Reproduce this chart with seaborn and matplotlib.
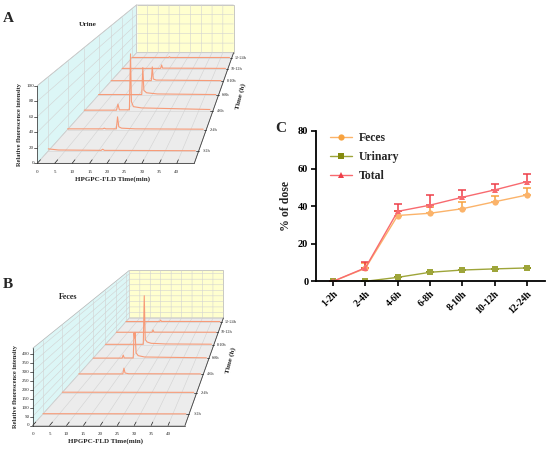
import numpy as np
import pandas as pd
import matplotlib
matplotlib.use('Agg')
import matplotlib.pyplot as plt
from matplotlib import ticker
from mpl_toolkits.mplot3d import proj3d
import seaborn as sns

# sampling windows (shared by all panels)
windows = ['1-2h', '2-4h', '4-6h', '6-8h', '8-10h', '10-12h', '12-24h']

# chromatograms (urine): retention time (min) / intensity
urine_rt = [
    [0, 3, 15.8, 16.3, 16.8, 44],
    [0, 11.4, 11.9, 12.4, 15.8, 16.2, 16.6, 17.5, 22, 44],
    [0, 11.3, 11.8, 12.3, 15.8, 16.2, 16.5, 17.2, 20, 44],
    [0, 16.2, 16.6, 17.0, 18, 22, 44],
    [0, 16.1, 16.5, 16.9, 18, 44],
    [0, 16.4, 16.8, 17.2, 44],
    [0, 16.5, 16.9, 17.3, 44],
]
urine_int = [
    [3, 1.5, 1, 2.5, 1, 0.5],
    [1, 1, 2, 1, 1, 18.5, 4, 2, 1, 0.5],
    [1.5, 1.5, 11, 2, 2, 90, 15, 7, 5, 2.5],
    [1, 1, 46.5, 8, 4, 2, 1],
    [1, 1, 25.7, 4, 2, 1],
    [1, 1, 7.6, 1.5, 1],
    [1, 1, 2.6, 1, 1],
]

# chromatograms (feces)
feces_rt = [
    [0, 44],
    [0, 44],
    [0, 15.9, 16.3, 16.7, 18, 44],
    [0, 11.3, 11.7, 12.1, 15.6, 15.9, 16.1, 16.3, 16.7, 17.5, 20, 44],
    [0, 15.7, 16.1, 16.5, 17.3, 19, 25, 44],
    [0, 15.8, 16.2, 16.6, 44],
    [0, 15.8, 16.2, 16.6, 44],
]
feces_int = [
    [2, 1],
    [2, 1],
    [2, 2, 41, 8, 3, 2],
    [2, 2, 24, 3, 3, 185, 150, 190, 40, 20, 10, 4],
    [2, 2, 382, 40, 20, 10, 5, 3],
    [2, 2, 22, 3, 2],
    [2, 2, 15, 3, 2],
]

rt_ticks = [0, 5, 10, 15, 20, 25, 30, 35, 40]
urine_zticks = [0, 20, 40, 60, 80, 100]
feces_zticks = [0, 50, 100, 150, 200, 250, 300, 350, 400]

# panel C: cumulative excretion (% of dose) and upper SD
feces_pct = [0, 6.9, 35.0, 36.2, 38.6, 42.3, 45.9]
feces_err = [0, 3.0, 2.6, 3.3, 3.7, 3.1, 3.9]
urinary_pct = [0, 0, 2.1, 4.8, 6.0, 6.6, 7.1]
urinary_err = [0, 0, 0, 0, 0, 0, 0]
total_pct = [0, 7.2, 37.2, 40.5, 44.7, 48.6, 53.0]
total_err = [0, 3.0, 3.8, 5.4, 3.9, 3.3, 3.9]

sns.set_theme(style='ticks')
plt.rcParams['font.family'] = ['Liberation Serif', 'DejaVu Serif']
plt.rcParams['font.weight'] = 'bold'
plt.rcParams['axes.labelweight'] = 'bold'

fig = plt.figure(figsize=(5.5, 4.49), dpi=100)

trace_color = '#f79b78'
pane_colors = ['#dcf6f6', '#ffffcf', '#ececec']


def oblique_projection(ax, front, size, vp, shrink):
    # Origin-style waterfall view: front face flat, depth converging to vp
    def get_proj():
        (x0, x1), (y0, y1), (z0, z1) = ax.get_xlim(), ax.get_ylim(), ax.get_zlim()
        unit = np.array([[1 / (x1 - x0), 0, 0, -x0 / (x1 - x0)],
                         [0, 1 / (y1 - y0), 0, -y0 / (y1 - y0)],
                         [0, 0, 1 / (z1 - z0), -z0 / (z1 - z0)],
                         [0, 0, 0, 1]])
        screen = np.array([[size[0], vp[0] * shrink, 0, front[0]],
                           [0, vp[1] * shrink, size[1], front[1]],
                           [-0.01, 1, -0.01, 0],
                           [0, shrink, 0, 1]])
        m = ax.transData.inverted().get_matrix()
        to_data = np.array([[m[0, 0], m[0, 1], 0, m[0, 2]],
                            [m[1, 0], m[1, 1], 0, m[1, 2]],
                            [0, 0, 1, 0],
                            [0, 0, 0, 1]])
        return to_data @ screen @ unit
    ax.get_proj = get_proj


def label3d(ax, x, y, z, s, along=None, **kw):
    # project a 3D anchor and place a flat text there
    M = ax.get_proj()
    px, py, _ = proj3d.proj_transform(x, y, z, M)
    if along is not None:
        qx, qy, _ = proj3d.proj_transform(x + along[0], y + along[1], z + along[2], M)
        d = ax.transData.transform([(qx, qy)]) - ax.transData.transform([(px, py)])
        ang = np.degrees(np.arctan2(d[0, 1], d[0, 0]))
        if ang > 90:
            ang -= 180
        elif ang <= -90:
            ang += 180
        kw['rotation'] = ang
    return ax.text2D(px, py, s, transform=ax.transData, **kw)


def waterfall(rect, rts, ints, zmax, zticks, ylim, front, size, vp):
    ax = fig.add_axes(rect, projection='3d', proj_type='ortho', computed_zorder=False)
    ax.set_facecolor('none')
    ax.view_init(elev=30, azim=90)

    # back traces first
    for k in reversed(range(len(windows))):
        ax.plot(rts[k], np.full(len(rts[k]), k + 1.0), ints[k],
                color=trace_color, lw=0.8)

    ax.set_xlim(0, 45)
    ax.set_ylim(*ylim)
    ax.set_zlim(0, zmax)
    ax.set_xticks(rt_ticks)
    ax.set_yticks(np.arange(1, len(windows) + 1))
    ax.set_zticks(zticks)
    ax.grid(True)
    for axis, col in zip((ax.xaxis, ax.yaxis, ax.zaxis), pane_colors):
        axis.set_major_formatter(ticker.NullFormatter())
        axis.set_tick_params(labelbottom=False)
        axis.label.set_visible(False)
        axis.offsetText.set_visible(False)
        axis.set_pane_color(col)
        axis.pane.set_edgecolor('#b4b4b4')
        axis.pane.set_linewidth(0.5)
        axis.line.set_color('#444444')
        axis.line.set_linewidth(0.6)
        axis._axinfo['grid'].update(color='#d2d2d2', linewidth=0.4, linestyle='-')
        axis._axinfo['tick'].update(inward_factor=0.0, outward_factor=0.25)
        axis._axinfo['tick']['linewidth'] = {True: 0.5, False: 0.3}
    ax.zaxis.set_ticks_position('lower')

    oblique_projection(ax, front, size, vp, 0.62)

    y0 = ylim[0]
    tk = dict(fontsize=3.6, fontweight='normal', color='#222222')
    for v in rt_ticks:
        label3d(ax, v, y0, -0.115 * zmax, f'{v}', ha='center', va='center', **tk)
    for v in zticks:
        label3d(ax, -0.9, y0, v, f'{v}', ha='right', va='center', **tk)
    for k, w in enumerate(windows):
        label3d(ax, 46.3, k + 1, 0, w, ha='left', va='center',
                fontsize=3.0, fontweight='normal', color='#222222')

    label3d(ax, 21.5, y0, -0.2 * zmax, 'HPGPC-FLD Time(min)',
            ha='center', va='center', fontsize=5)
    label3d(ax, -5.0, y0, 0.5 * zmax, 'Relative fluorescence intensity',
            ha='center', va='center', fontsize=4.6, rotation=90)
    label3d(ax, 53.5, 3.9, 0, 'Time (h)', along=(0, 1, 0),
            ha='center', va='center', fontsize=5.2, rotation_mode='anchor')
    return ax


H = 449.0
W = 550.0

# A: urine
waterfall([0, (H - 240) / H, 250 / W, 250 / H], urine_rt, urine_int, 100,
          urine_zticks, (0.5, 7.53),
          front=(37.3, H - 163.3), size=(157.0, 77.6), vp=(297.0, H + 125.7))
# B: feces
waterfall([0, (H - 450) / H, 250 / W, 250 / H], feces_rt, feces_int, 430,
          feces_zticks, (0.53, 7.38),
          front=(32.7, H - 425.5), size=(152.3, 77.2), vp=(285.3, H - 144.6))

fig.text(8.3 / W, 1 - 18.3 / H, 'A', ha='center', va='center', fontsize=11)
fig.text(8.3 / W, 1 - 285 / H, 'B', ha='center', va='center', fontsize=11)
fig.text(281 / W, 1 - 128 / H, 'C', ha='center', va='center', fontsize=11)
fig.text(87.3 / W, 1 - 24 / H, 'Urine', ha='center', va='center', fontsize=5.2)
fig.text(68.3 / W, 1 - 296.7 / H, 'Feces', ha='center', va='center', fontsize=5.8)

# C: excretion curves
axc = fig.add_axes([316 / W, 167.7 / H, 229 / W, 150.4 / H])
series = ['Feces', 'Urinary', 'Total']
line_cols = {'Feces': '#fbb36a', 'Urinary': '#9ea53a', 'Total': '#f86a6f'}
mark_cols = {'Feces': '#f7a23e', 'Urinary': '#858b0f', 'Total': '#ee3e49'}
markers = {'Feces': 'o', 'Urinary': 's', 'Total': '^'}
pcts = {'Feces': feces_pct, 'Urinary': urinary_pct, 'Total': total_pct}
errs = {'Feces': feces_err, 'Urinary': urinary_err, 'Total': total_err}

pos = np.arange(len(windows))
df = pd.DataFrame({
    'pos': np.tile(pos, len(series)),
    'pct': feces_pct + urinary_pct + total_pct,
    'series': np.repeat(series, len(windows)),
})

for s in series:
    axc.errorbar(pos, pcts[s], yerr=[np.zeros(len(pos)), errs[s]], fmt='none',
                 ecolor=mark_cols[s], elinewidth=1.1, capsize=2.6, capthick=1.1,
                 zorder=1)

sns.lineplot(data=df, x='pos', y='pct', hue='series', style='series',
             palette=line_cols, markers=markers, dashes=False, markersize=4.5,
             markeredgewidth=0, linewidth=1.0, ax=axc, zorder=2)
for line, s in zip(axc.lines, series):
    line.set_markerfacecolor(mark_cols[s])

leg = axc.get_legend()
handles = leg.legend_handles
labels = [t.get_text() for t in leg.get_texts()]
for h, s in zip(handles, series):
    h.set_markerfacecolor(mark_cols[s])
    h.set_markeredgewidth(0)
    h.set_markersize(4.5)
axc.legend(handles, labels, loc='upper left', bbox_to_anchor=(0.03, 1.04),
           frameon=False, fontsize=8.5, handlelength=1.9, handletextpad=0.55,
           labelspacing=0.6, borderaxespad=0.2)

axc.set_xlim(-0.53, 6.56)
axc.set_ylim(0, 80)
axc.set_yticks([0, 20, 40, 60, 80])
axc.set_xticks(pos)
axc.set_xticklabels(windows, rotation=45, ha='right', rotation_mode='anchor')
axc.set_xlabel('')
axc.set_ylabel('% of dose', fontsize=8.5, labelpad=4)
axc.tick_params(direction='out', length=3.5, width=1.2, labelsize=7.5, pad=2,
                color='black', labelcolor='black')
axc.tick_params(axis='x', labelsize=7)
sns.despine(ax=axc)
for sp in ('left', 'bottom'):
    axc.spines[sp].set_linewidth(1.3)
    axc.spines[sp].set_color('black')

fig.savefig('out.png', dpi=100)
